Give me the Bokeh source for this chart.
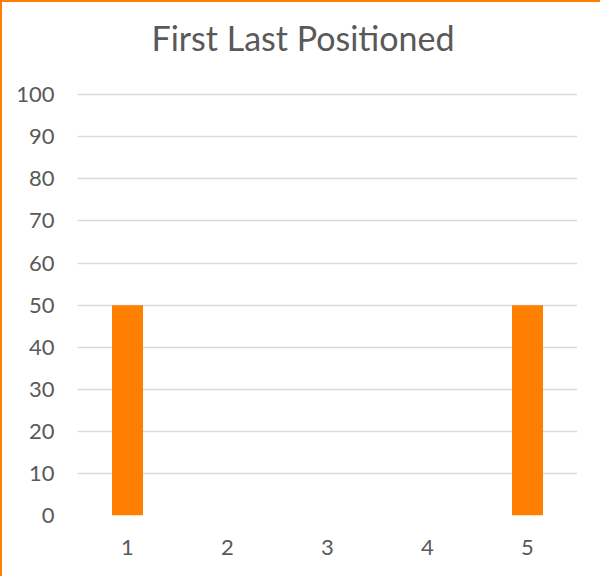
from bokeh.plotting import figure
from bokeh.models import Range1d, FactorRange, FixedTicker, Title
from bokeh.embed import file_html
from bokeh.resources import INLINE

categories = ["1", "2", "3", "4", "5"]
values = [50, 0, 0, 0, 50]
y_ticks = [0, 10, 20, 30, 40, 50, 60, 70, 80, 90, 100]
title_text = "First Last Positioned"

TEXT = "#595959"
FONT = "Lato"

p = figure(
    x_range=FactorRange(factors=categories, range_padding=0),
    y_range=Range1d(0, 100.3),
    width=600, height=576,
    output_backend="svg", toolbar_location=None,
    min_border_left=75, min_border_right=25,
    min_border_top=91, min_border_bottom=63,
)
p.styles = {"border-left": "2px solid #FF8000", "border-top": "2px solid #FF8000",
            "box-sizing": "border-box"}

# spacer between title and plot area (nearest to frame), then the real title
p.add_layout(Title(text=" ", text_font_size="1px", standoff=33), "above")
p.add_layout(Title(text=title_text, align="left", offset=74, standoff=0,
                   text_font=FONT, text_font_size="34px", text_font_style="normal",
                   text_color=TEXT), "above")

p.outline_line_color = None
p.background_fill_color = "white"
p.border_fill_color = "white"

p.vbar(x=categories, top=values, width=0.31, fill_color="#FF8000", line_color=None)

p.xgrid.grid_line_color = None
p.ygrid.grid_line_color = "#D9D9D9"
p.ygrid.grid_line_width = 1.5
p.yaxis.ticker = FixedTicker(ticks=y_ticks)

for ax in (p.xaxis, p.yaxis):
    ax.axis_line_color = None
    ax.major_tick_line_color = None
    ax.minor_tick_line_color = None
    ax.major_label_text_font = FONT
    ax.major_label_text_font_size = "22px"
    ax.major_label_text_color = TEXT

p.yaxis.major_label_standoff = 17
p.xaxis.major_label_standoff = 18

open("out.html", "w").write(file_html(p, INLINE))
